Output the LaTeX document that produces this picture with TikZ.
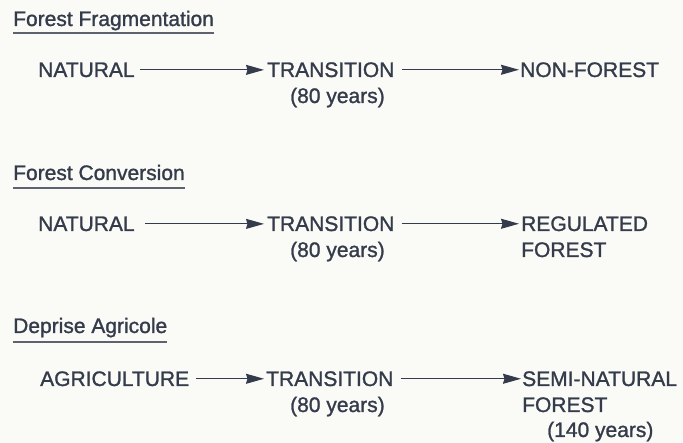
\documentclass[tikz,border=0pt]{standalone}
\usepackage{fontspec}
\setmainfont[FakeBold=1.2]{Liberation Sans}
\usetikzlibrary{arrows.meta}
\definecolor{ink}{HTML}{343B4A}
\definecolor{paper}{HTML}{FAFAF7}
\begin{document}
\begin{tikzpicture}[x=1pt,y=-1pt,
  txt/.style={anchor=base west,inner sep=0pt,text=ink,font=\fontsize{21}{25}\selectfont},
  conn/.style={draw=ink,line width=1.1pt,-{Stealth[length=18pt,width=10pt,inset=1.5pt]}},
  uline/.style={draw=ink!80,line width=1.5pt}]
\fill[paper] (0,0) rectangle (683,443);
\useasboundingbox (0,0) rectangle (683,443);
% ---- Forest Fragmentation
\node[txt] (t1) at (13,26) {Forest Fragmentation};
\draw[uline] ([yshift=-7pt]t1.base west) -- ([yshift=-7pt]t1.base east);
\node[txt] (a1) at (38,77) {NATURAL};
\node[txt] (b1) at (267,77) {TRANSITION};
\node[txt] (y1) at (290,103) {(80 years)};
\node[txt] (c1) at (520,77) {NON-FOREST};
\draw[conn,shorten <=5pt,shorten >=3pt] (a1.east) -- (a1.east -| b1.west);
\draw[conn,shorten <=7pt,shorten >=1pt] (b1.east) -- (b1.east -| c1.west);
% ---- Forest Conversion
\node[txt] (t2) at (13,180) {Forest Conversion};
\draw[uline] ([yshift=-8pt]t2.base west) -- ([yshift=-8pt]t2.base east);
\node[txt] (a2) at (38,231) {NATURAL};
\node[txt] (b2) at (267,231) {TRANSITION};
\node[txt] (y2) at (290,257) {(80 years)};
\node[txt] (c2) at (521,231) {REGULATED};
\node[txt] (d2) at (521,257) {FOREST};
\draw[conn,shorten <=10pt,shorten >=3pt] (a2.east) -- (a2.east -| b2.west);
\draw[conn,shorten <=7pt,shorten >=2pt] (b2.east) -- (b2.east -| c2.west);
% ---- Deprise Agricole
\node[txt] (t3) at (13,333) {Deprise Agricole};
\draw[uline] ([yshift=-9pt]t3.base west) -- ([yshift=-9pt]t3.base east);
\node[txt] (a3) at (40,386) {AGRICULTURE};
\node[txt] (b3) at (266,386) {TRANSITION};
\node[txt] (y3) at (290,412) {(80 years)};
\node[txt] (c3) at (522,386) {SEMI-NATURAL};
\node[txt] (d3) at (522,412) {FOREST};
\node[txt] (e3) at (547,437) {(140 years)};
\draw[conn,shorten <=7pt,shorten >=2pt] (a3.east) -- (a3.east -| b3.west);
\draw[conn,shorten <=7pt,shorten >=1pt] (b3.east) -- (b3.east -| c3.west);
\end{tikzpicture}
\end{document}
